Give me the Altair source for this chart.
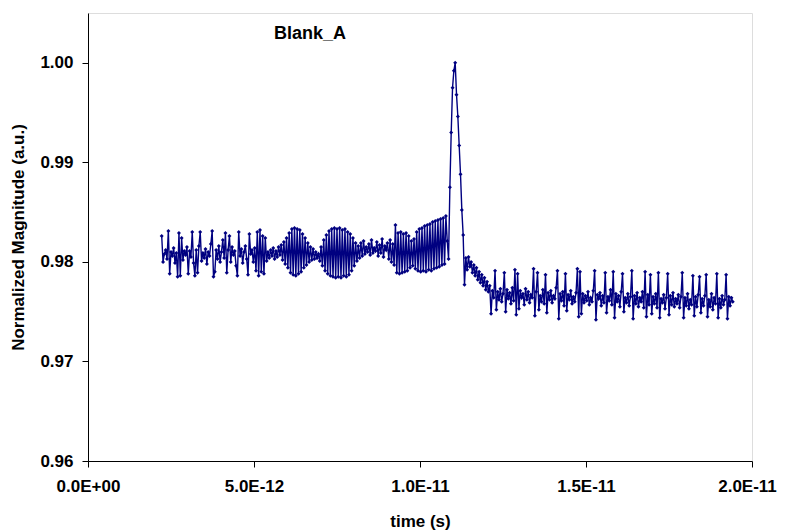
import altair as alt
import pandas as pd

# ---- data ----
TITLE = "Blank_A"
X_TITLE = "time (s)"
Y_TITLE = "Normalized Magnitude (a.u.)"
X_TICKS = [0.0, 5e-12, 1e-11, 1.5e-11, 2e-11]
X_TICK_LABELS = ["0.0E+00", "5.0E-12", "1.0E-11", "1.5E-11", "2.0E-11"]
Y_TICKS = [0.96, 0.97, 0.98, 0.99, 1.00]

T_START = 2.22e-12   # first sample time (s)
T_STEP = 4e-14       # sampling interval (s)

SEG_A = [0.9826, 0.9800, 0.9808, 0.9812, 0.9803, 0.9831, 0.9788, 0.9810, 0.9806, 0.9814,
         0.9799, 0.9809, 0.9785, 0.9829, 0.9786, 0.9824, 0.9802, 0.9811, 0.9807, 0.9815,
         0.9788, 0.9811, 0.9805, 0.9830, 0.9799, 0.9786, 0.9812, 0.9789, 0.9816, 0.9830,
         0.9801, 0.9809, 0.9804, 0.9813, 0.9798, 0.9810, 0.9806, 0.9818, 0.9831, 0.9785,
         0.9790, 0.9812, 0.9803, 0.9816, 0.9800, 0.9810, 0.9822, 0.9804, 0.9829, 0.9789,
         0.9812, 0.9826, 0.9800, 0.9815, 0.9807, 0.9811, 0.9796, 0.9786, 0.9830]
SEG_B = [0.9806, 0.9813, 0.9799, 0.9810, 0.9816, 0.9803, 0.9787, 0.9828, 0.9808, 0.9812,
         0.9800, 0.9814, 0.9791, 0.9830, 0.9786, 0.9832, 0.9790, 0.9826, 0.9788, 0.9824,
         0.9801]
SEG_C = [0.9810, 0.9804, 0.9812, 0.9806, 0.9814, 0.9803, 0.9811, 0.9805, 0.9815, 0.9807,
         0.9817, 0.9802, 0.9820]
SEG_D = [0.9798, 0.9824, 0.9794, 0.9829, 0.9789, 0.9833, 0.9787, 0.9834, 0.9786, 0.9833,
         0.9788, 0.9832, 0.9790, 0.9828, 0.9794, 0.9824, 0.9797, 0.9819, 0.9800, 0.9815]
SEG_WAIST = [0.9802, 0.9813, 0.9803, 0.9810, 0.9804, 0.9808, 0.9801]
SEG_E = [0.9815, 0.9796, 0.9822, 0.9791, 0.9827, 0.9788, 0.9831, 0.9786, 0.9833, 0.9785,
         0.9834, 0.9784, 0.9833, 0.9785, 0.9834, 0.9784, 0.9832, 0.9786, 0.9833, 0.9785,
         0.9830, 0.9787, 0.9828, 0.9791, 0.9824, 0.9796, 0.9819, 0.9801]
SEG_F = [0.9816, 0.9804, 0.9819, 0.9806, 0.9821, 0.9808, 0.9815, 0.9810, 0.9818, 0.9807,
         0.9822, 0.9809, 0.9814, 0.9811, 0.9820, 0.9806, 0.9817, 0.9809, 0.9823, 0.9805,
         0.9816, 0.9812, 0.9819, 0.9803, 0.9822, 0.9800, 0.9818, 0.9797]
SEG_G = [0.9837, 0.9789, 0.9829, 0.9788, 0.9830, 0.9789, 0.9828, 0.9790, 0.9829, 0.9791,
         0.9826, 0.9794, 0.9821, 0.9796, 0.9823, 0.9793, 0.9830, 0.9791, 0.9833, 0.9790,
         0.9834, 0.9791, 0.9836, 0.9790, 0.9837, 0.9792, 0.9838, 0.9791, 0.9840, 0.9793,
         0.9841, 0.9794, 0.9842, 0.9795, 0.9843, 0.9797, 0.9844, 0.9798, 0.9846, 0.9821,
         0.9803]
SEG_PEAK = [0.9875, 0.9930, 0.9975, 0.9992, 1.0000, 0.9968, 0.9946, 0.9917, 0.9888, 0.9852,
            0.9827, 0.9777]
SEG_H = [0.9804, 0.9792, 0.9805, 0.9795, 0.9800, 0.9789, 0.9797, 0.9786, 0.9794, 0.9782,
         0.9790, 0.9779, 0.9787, 0.9776, 0.9784, 0.9772, 0.9780, 0.9770]
SEG_I = [0.9776, 0.9748, 0.9771, 0.9764, 0.9791, 0.9752, 0.9770, 0.9762, 0.9773, 0.9760,
         0.9768, 0.9789, 0.9750, 0.9772, 0.9763, 0.9769, 0.9758, 0.9774, 0.9761, 0.9792,
         0.9747, 0.9788, 0.9753, 0.9771, 0.9764, 0.9768, 0.9757, 0.9773, 0.9762, 0.9770,
         0.9759, 0.9767, 0.9764, 0.9793, 0.9746, 0.9770, 0.9789, 0.9752, 0.9766, 0.9760,
         0.9772, 0.9758, 0.9787, 0.9749, 0.9769, 0.9762, 0.9771, 0.9759, 0.9766, 0.9763,
         0.9774, 0.9791, 0.9743, 0.9768, 0.9761, 0.9770, 0.9756, 0.9788, 0.9751, 0.9767,
         0.9762, 0.9771, 0.9758, 0.9765, 0.9760, 0.9769, 0.9793, 0.9745, 0.9790, 0.9748,
         0.9768, 0.9759, 0.9766, 0.9761, 0.9770, 0.9757, 0.9764, 0.9760, 0.9771, 0.9791,
         0.9742, 0.9767, 0.9763, 0.9769, 0.9756, 0.9766, 0.9759, 0.9789, 0.9749, 0.9765,
         0.9761, 0.9772, 0.9757, 0.9790, 0.9744, 0.9768, 0.9760, 0.9766, 0.9755, 0.9770,
         0.9788, 0.9750, 0.9764, 0.9759, 0.9768, 0.9756, 0.9765, 0.9791, 0.9743, 0.9766,
         0.9758, 0.9769, 0.9755, 0.9764, 0.9760, 0.9770, 0.9754, 0.9790, 0.9745, 0.9767,
         0.9757, 0.9787, 0.9748, 0.9765, 0.9758, 0.9768, 0.9754, 0.9789, 0.9744, 0.9763,
         0.9759, 0.9767, 0.9753, 0.9764, 0.9788, 0.9747, 0.9766, 0.9757, 0.9769, 0.9755,
         0.9763, 0.9758, 0.9767, 0.9754, 0.9765, 0.9789, 0.9744, 0.9764, 0.9756, 0.9768,
         0.9753, 0.9762, 0.9757, 0.9786, 0.9746, 0.9765, 0.9755, 0.9767, 0.9785, 0.9749,
         0.9763, 0.9756, 0.9766, 0.9787, 0.9745, 0.9762, 0.9755, 0.9768, 0.9752, 0.9764,
         0.9758, 0.9788, 0.9744, 0.9763, 0.9754, 0.9766, 0.9757, 0.9762, 0.9787, 0.9743,
         0.9765, 0.9756, 0.9764, 0.9760]

values = (SEG_A + SEG_B + SEG_C + SEG_D + SEG_WAIST + SEG_E + SEG_F + SEG_G
          + SEG_PEAK + SEG_H + SEG_I)
times = [T_START + i * T_STEP for i in range(len(values))]
df = pd.DataFrame({"t": times, "v": values})

# ---- styling ----
FONT = "Liberation Sans"
NAVY = "#000080"
FS = 17

# label expression built from tick lists
label_expr = f"'{X_TICK_LABELS[-1]}'"
for i in range(len(X_TICKS) - 2, -1, -1):
    mid = (X_TICKS[i] + X_TICKS[i + 1]) / 2
    label_expr = f"datum.value < {mid} ? '{X_TICK_LABELS[i]}' : ({label_expr})"

common_axis = dict(
    grid=False, tickSize=6, labelFont=FONT, titleFont=FONT,
    labelFontWeight="bold", titleFontWeight="bold",
    labelFontSize=FS, titleFontSize=FS, labelColor="black", titleColor="black",
    domainColor="black", tickColor="black", domainWidth=1, tickWidth=1,
    labelFlush=False, labelOverlap=False, labelBound=False,
)

last_test = f"datum.value > {(X_TICKS[-2] + X_TICKS[-1]) / 2}"
x_enc = alt.X(
    "t:Q",
    scale=alt.Scale(domain=[0, 2e-11], nice=False, zero=False),
    axis=alt.Axis(values=X_TICKS, labelExpr=label_expr, title=X_TITLE,
                  labelOffset={"condition": {"test": last_test, "value": -5}, "value": 0},
                  labelPadding=11, titlePadding=19, **common_axis),
)
y_enc = alt.Y(
    "v:Q",
    scale=alt.Scale(domain=[0.96, 1.005], nice=False, zero=False),
    axis=alt.Axis(values=Y_TICKS, format=".2f", title=Y_TITLE,
                  labelPadding=9, titlePadding=12, **common_axis),
)

base = alt.Chart(df)
line = base.mark_line(color=NAVY, strokeWidth=1.4, clip=True).encode(x=x_enc, y=y_enc)
pts = base.mark_point(shape="diamond", size=16, filled=True, color=NAVY, opacity=1, clip=True).encode(
    x="t:Q", y="v:Q"
)
title = alt.Chart(pd.DataFrame({"label": [TITLE]})).mark_text(
    font=FONT, fontSize=18, fontWeight="bold", color="black", align="center", baseline="middle"
).encode(text="label:N", x=alt.value(222), y=alt.value(21))

chart = alt.layer(line, pts, title).properties(
    width=664, height=448,
    autosize=alt.AutoSizeParams(type="none"),
    padding={"left": 80, "top": 5, "right": 26, "bottom": 72},
).configure_view(
    stroke="#666666", strokeWidth=1
).configure(background="white")

chart.save("out.html", embed_options={"renderer": "svg", "actions": False})
